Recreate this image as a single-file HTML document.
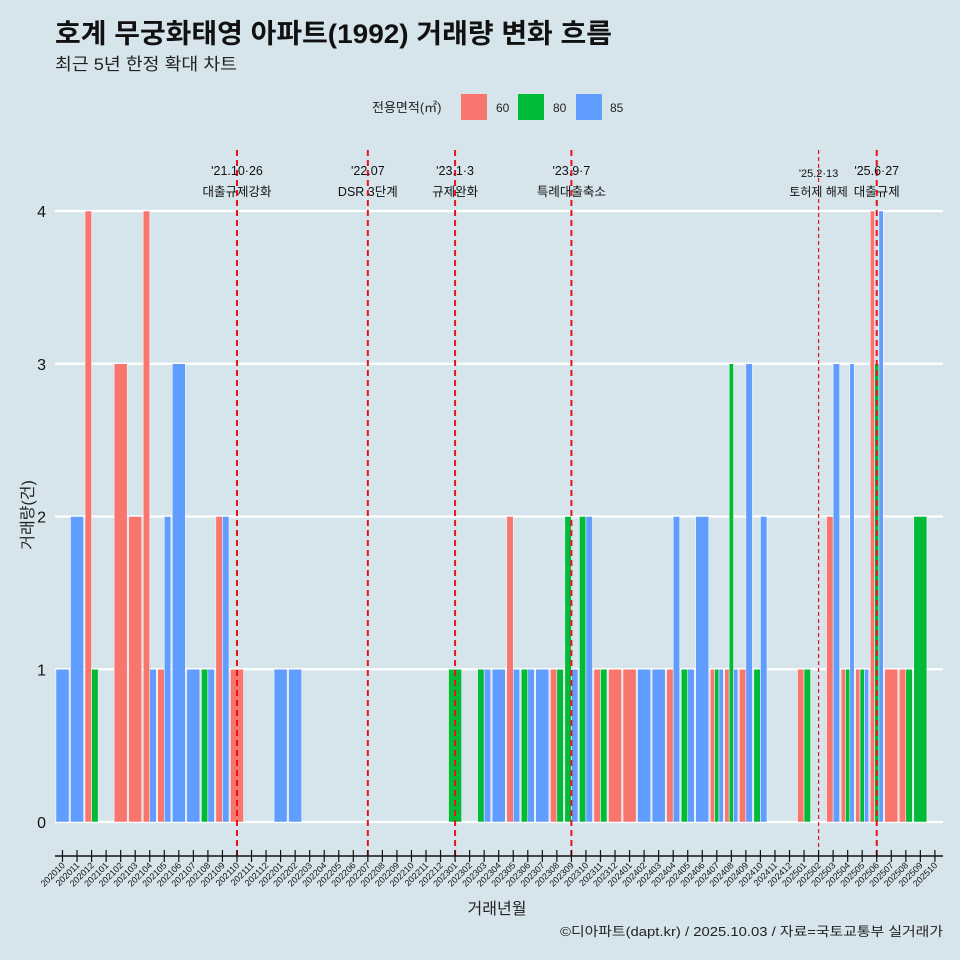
<!DOCTYPE html>
<html><head><meta charset="utf-8"><style>
body{margin:0;background:#d6e5ec;overflow:hidden;}
svg{display:block;}
svg text{font-family:"Liberation Sans","Noto Sans CJK KR",sans-serif;}
</style></head><body>
<svg id="c" width="960" height="960" xmlns="http://www.w3.org/2000/svg">
<rect width="960" height="960" fill="#d6e5ec"/>
<text x="55" y="43" font-size="27" font-weight="bold" fill="#111" textLength="557" lengthAdjust="spacingAndGlyphs">호계 무궁화태영 아파트(1992) 거래량 변화 흐름</text>
<text x="55" y="70" font-size="17" fill="#222" textLength="182" lengthAdjust="spacingAndGlyphs">최근 5년 한정 확대 차트</text>
<g>
<text x="372" y="112" font-size="13" fill="#222">전용면적(㎡)</text>
<rect x="461" y="94" width="26" height="26" fill="#F8766D"/>
<text x="496" y="112" font-size="12" fill="#222">60</text>
<rect x="518" y="94" width="26" height="26" fill="#00BA38"/>
<text x="553" y="112" font-size="12" fill="#222">80</text>
<rect x="576" y="94" width="26" height="26" fill="#619CFF"/>
<text x="610" y="112" font-size="12" fill="#222">85</text>
</g>
<g id="grid"></g><g id="bars"></g><g id="events"></g><g id="axis"></g>
<text transform="translate(33,515) rotate(-90)" text-anchor="middle" font-size="16" fill="#222">거래량(건)</text>
<text x="497" y="914" text-anchor="middle" font-size="16" fill="#222">거래년월</text>
<text x="943" y="936" text-anchor="end" font-size="13" fill="#222" textLength="383" lengthAdjust="spacingAndGlyphs">©디아파트(dapt.kr) / 2025.10.03 / 자료=국토교통부 실거래가</text>
</svg>
<script>
const months=["202010","202011","202012","202101","202102","202103","202104","202105","202106","202107","202108","202109","202110","202111","202112","202201","202202","202203","202204","202205","202206","202207","202208","202209","202210","202211","202212","202301","202302","202303","202304","202305","202306","202307","202308","202309","202310","202311","202312","202401","202402","202403","202404","202405","202406","202407","202408","202409","202410","202411","202412","202501","202502","202503","202504","202505","202506","202507","202508","202509","202510"];
const s60=[0,0,4,0,3,2,4,1,0,0,0,2,1,0,0,0,0,0,0,0,0,0,0,0,0,0,0,0,0,0,0,2,0,0,1,0,0,1,1,1,0,0,1,0,0,1,1,1,0,0,0,1,0,2,1,1,4,1,1,0,0];
const s80=[0,0,1,0,0,0,0,0,0,0,1,0,0,0,0,0,0,0,0,0,0,0,0,0,0,0,0,1,0,1,0,0,1,0,1,2,2,1,0,0,0,0,0,1,0,1,3,0,1,0,0,1,0,0,1,1,3,0,1,2,0];
const s85=[1,2,0,0,0,0,1,2,3,1,1,2,0,0,0,1,1,0,0,0,0,0,0,0,0,0,0,0,0,1,1,1,1,1,0,1,2,0,0,0,1,1,2,1,2,1,1,3,2,0,0,0,0,3,3,1,4,0,0,0,0];
const yTicks=[0,1,2,3,4];
const eventMonths=["202110","202207","202301","202309","202502","202506"];
const eventDates=["'21.10·26","'22.07","'23.1·3","'23.9·7","'25.2·13","'25.6·27"];
const eventNames=["대출규제강화","DSR 3단계","규제완화","특례대출축소","토허제 해제","대출규제"];
const NS="http://www.w3.org/2000/svg";
const x0=62.5,step=14.54,L=55,R=943;
const xs=i=>x0+i*step;
const ys=v=>822-v*152.75;
function mk(t,a,p){const e=document.createElementNS(NS,t);for(const k in a)e.setAttribute(k,a[k]);p.appendChild(e);return e;}
const grid=document.getElementById('grid'),bars=document.getElementById('bars'),ev=document.getElementById('events'),ax=document.getElementById('axis');
yTicks.forEach(v=>{
 const l=mk('line',{x1:L,x2:R,y1:ys(v),y2:ys(v),stroke:'#fff','stroke-width':2.2},grid);
 
 
 const t=mk('text',{x:46,y:ys(v)+6,'text-anchor':'end','font-size':16,fill:'#111'},grid);
 t.textContent=v;
 
 
});
const series=[[s60,'#F8766D','60'],[s80,'#00BA38','80'],[s85,'#619CFF','85']];
const W=step*0.9;
months.forEach((m,i)=>{
 const present=series.filter(s=>s[0][i]>0);
 const w=W/(present.length||1);
 present.forEach((s,j)=>{
  const v=s[0][i];
  const r=mk('rect',{x:xs(i)-W/2+j*w,y:ys(v),width:w,height:ys(0)-ys(v),fill:s[1],stroke:'#fff','stroke-width':0.5},bars);
  
  
 });
});
eventMonths.forEach((m,k)=>{
 const i=months.indexOf(m),x=xs(i);
 const thin=m==="202502";
 const l=mk('line',{x1:x,x2:x,y1:150,y2:856,stroke:'#e8121a','stroke-width':thin?1.2:2,'stroke-dasharray':thin?'4,3':'6,4'},ev);
 
 
 const t1=mk('text',{x:x,y:thin?177:175,'text-anchor':'middle','font-size':thin?11:12.5,fill:'#111'},ev);
 t1.textContent=eventDates[k];
 
 
 const t2=mk('text',{x:x,y:196,'text-anchor':'middle','font-size':thin?12:12.5,fill:'#111'},ev);
 t2.textContent=eventNames[k];
 
 
});
const al=mk('line',{x1:L,x2:R,y1:856,y2:856,stroke:'#111','stroke-width':1.5},ax);


months.forEach((m,i)=>{
 const x=xs(i);
 const tk=mk('line',{x1:x,x2:x,y1:850,y2:862,stroke:'#111','stroke-width':1.2},ax);
 
 
 const t=mk('text',{x:x+3,y:866,'text-anchor':'end','font-size':9,fill:'#111',transform:`rotate(-45 ${x+3} 866)`},ax);
 t.textContent=m;
 
 
});
</script>
</body></html>
